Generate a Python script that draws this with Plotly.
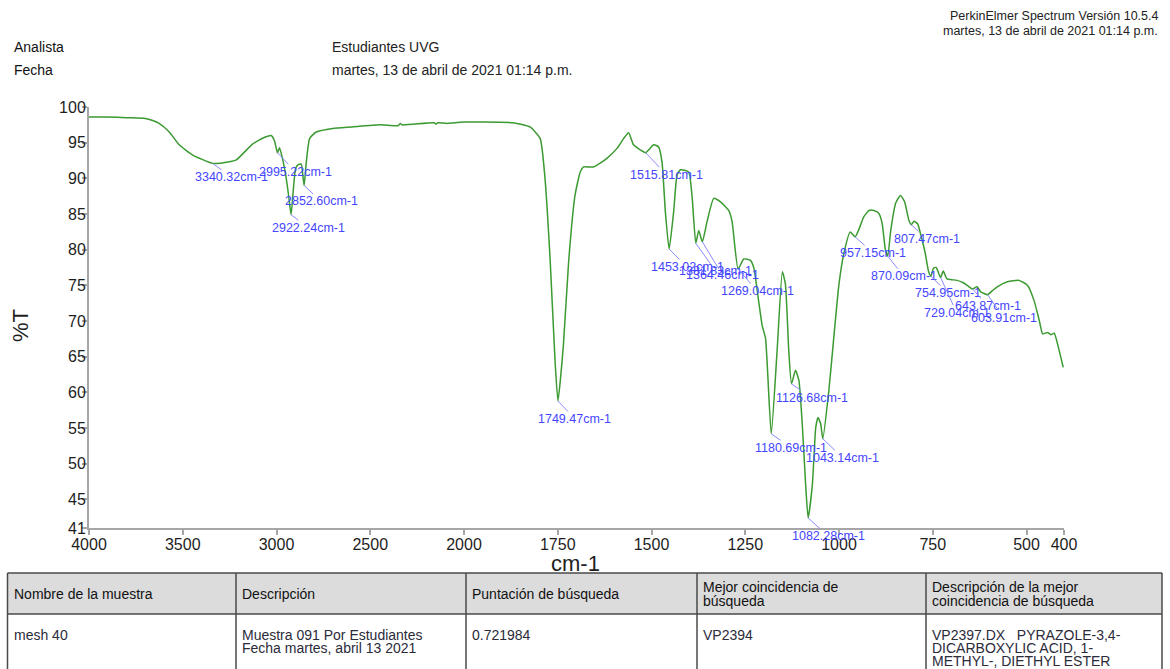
import plotly.graph_objects as go

# ---------------------------------------------------------------- data
# FTIR spectrum: wavenumber (cm-1) and transmittance (%T)
wavenumber = [
    4000, 3900, 3800, 3700, 3660, 3626, 3572, 3519, 3449, 3400, 3340.32, 3260,
    3214, 3128, 3060, 3028, 3010, 2995.22, 2984, 2970, 2948, 2935, 2922.24,
    2910, 2898, 2886, 2868, 2860, 2852.60, 2841, 2823, 2788, 2700, 2600, 2449,
    2350, 2340, 2330, 2160, 2150, 2140, 2092, 2000,
    1957, 1869, 1824, 1797, 1784, 1770, 1757, 1749.47, 1735, 1721, 1704, 1690,
    1681, 1655, 1619, 1592, 1574, 1561, 1548, 1530, 1515.81, 1494, 1481, 1472,
    1463, 1453.02, 1441, 1432, 1423, 1401, 1392, 1381.83, 1374, 1364.46, 1352,
    1334, 1316, 1294, 1285, 1269.04, 1254, 1236, 1227, 1214, 1205, 1196,
    1180.69, 1165, 1151, 1143, 1134, 1126.68, 1116, 1107, 1098, 1089, 1082.28,
    1071, 1062, 1056, 1049, 1043.14, 1027, 1013, 1000, 987, 970, 957.15, 948,
    934, 920, 907, 894, 885, 876, 870.09, 862, 849, 836, 825, 814, 807.47, 800,
    790, 783, 770, 761, 754.95, 748, 741, 729.04, 722, 712, 700, 685, 670, 658,
    643.87, 632, 622, 603.91, 590, 578, 551, 520, 497, 480, 466, 457, 444, 434,
    426, 413, 402,
]
transmittance = [
    98.6, 98.6, 98.5, 98.4, 98.1, 97.7, 96.5, 94.7, 93.3, 92.7, 92.1, 92.3,
    92.6, 94.8, 95.8, 96.0, 95.2, 93.6, 94.3, 93.0, 90.0, 87.5, 84.9,
    88.5, 91.4, 91.9, 92.0, 90.5, 89.0, 92.3, 95.6, 96.5, 97.0, 97.2, 97.5,
    97.4, 97.7, 97.5, 97.8, 97.6, 97.8, 97.7, 97.9,
    97.9, 97.8, 97.2, 95.6, 90.0, 78.3, 64.2, 58.8, 66.6, 78.3, 87.6, 90.9,
    91.6, 91.6, 92.8, 94.2, 95.6, 96.4, 94.7, 94.0, 93.6, 94.7, 94.4, 92.3,
    85.3, 80.1, 85.3, 90.4, 91.2, 90.9, 87.6, 80.9, 82.7, 81.1, 83.9,
    87.2, 86.7, 85.5, 83.9, 77.3, 78.7, 78.5, 77.4, 72.7, 69.4, 67.6,
    54.2, 65.9, 76.9, 75.2, 65.9, 61.2, 63.1, 61.7, 55.6, 47.1, 42.4,
    47.1, 55.1, 56.5, 55.6, 53.5, 60.3, 68.2, 75.2, 79.5, 82.5, 81.8, 82.7,
    84.6, 85.5, 85.5, 85.1, 83.7, 79.9, 79.1, 82.7, 86.5, 87.6, 86.7, 84.2, 83.5, 84.0,
    83.6, 82.3, 79.5, 76.9, 76.3, 77.4, 77.5, 76.1, 77.0, 75.9, 75.8, 75.7, 75.4, 75.0,
    74.5, 74.8, 74.1, 73.7, 74.3, 74.8, 75.5, 75.7, 75.0, 72.9, 70.1, 68.2, 68.4, 68.1,
    68.3, 65.9, 63.5,
]

# labelled peaks and the pixel offset of each label from its peak
peak_wavenumbers = [3340.32, 2995.22, 2922.24, 2852.60, 1749.47, 1515.81,
                    1453.02, 1381.83, 1364.46, 1269.04, 1180.69, 1126.68,
                    1082.28, 1043.14, 957.15, 870.09, 807.47, 754.95,
                    729.04, 643.87, 603.91]
label_dx = [19, 18, 17, 17, 17, 21, 18, 20, 20, 19, 20, 20,
            20, 20, 18, 16, 16, 17, 16, 15, 16]
label_dy = [14, 19, 13, 16, 18, 22, 18, 28, 33, 22, 14, 14,
            18, 19, 16, 20, 14, 17, 35, 17, 23]

x_ticks_high = [4000, 3500, 3000, 2500, 2000]
x_ticks_low = [1750, 1500, 1250, 1000, 750, 500, 400]
y_ticks = [100, 95, 90, 85, 80, 75, 70, 65, 60, 55, 50, 45, 41]

header_left = [("Analista", "Estudiantes UVG"),
               ("Fecha", "martes, 13 de abril de 2021 01:14 p.m.")]
header_right = ["PerkinElmer Spectrum Versión 10.5.4",
                "martes, 13 de abril de 2021 01:14 p.m."]

table_columns = ["Nombre de la muestra", "Descripción", "Puntación de búsqueda",
                 "Mejor coincidencia de\nbúsqueda",
                 "Descripción de la mejor\ncoincidencia de búsqueda"]
table_values = ["mesh 40", "Muestra 091 Por Estudiantes\nFecha martes, abril 13 2021",
                "0.721984", "VP2394",
                "VP2397.DX   PYRAZOLE-3,4-\nDICARBOXYLIC ACID, 1-\nMETHYL-, DIETHYL ESTER"]
table_col_edges = [7.5, 236, 466, 697, 926, 1162]

# ---------------------------------------------------------------- layout geometry
W, H = 1170, 669
ML, MR, MT, MB = 89, 106, 107, 141
PW, PH = W - ML - MR, H - MT - MB
SPLIT = 2000 / 5200          # 4000-2000 is drawn at half the scale of 2000-400

FONT = "Liberation Sans, Arial, sans-serif"
AXIS_GRAY = "#a6a6a6"
GREEN = "#3b9a31"


def px_x(px):
    return (px - ML) / PW


def px_y(py):
    return (H - MB - py) / PH


fig = go.Figure()

high = [(w, t) for w, t in zip(wavenumber, transmittance) if w >= 2000]
low = [(w, t) for w, t in zip(wavenumber, transmittance) if w <= 2000]
for pts, xa in ((high, "x"), (low, "x2")):
    fig.add_trace(go.Scatter(
        x=[p[0] for p in pts], y=[p[1] for p in pts], xaxis=xa, yaxis="y",
        mode="lines", line=dict(color=GREEN, width=1.5, shape="spline", smoothing=0.5),
        hoverinfo="skip", showlegend=False))

axis_style = dict(showline=True, linecolor=AXIS_GRAY, linewidth=2, ticks="outside",
                  ticklen=5, tickwidth=1.5, tickcolor=AXIS_GRAY, showgrid=False,
                  zeroline=False, tickfont=dict(family=FONT, size=16, color="#1e1e1e"))

fig.update_layout(
    width=W, height=H, margin=dict(l=ML, r=MR, t=MT, b=MB),
    paper_bgcolor="white", plot_bgcolor="white", showlegend=False,
    xaxis=dict(domain=[0, SPLIT], range=[4000, 2000], tickvals=x_ticks_high,
               anchor="y", ticklabelstandoff=-4, **axis_style),
    xaxis2=dict(domain=[SPLIT, 1], range=[2000, 400], tickvals=x_ticks_low,
                anchor="y", ticklabelstandoff=-4, **axis_style),
    yaxis=dict(range=[41, 100], tickvals=y_ticks, anchor="x",
               ticklabelstandoff=-7, **axis_style),
)

ann = []
# peak labels
lookup = dict(zip(wavenumber, transmittance))
for w, dx, dy in zip(peak_wavenumbers, label_dx, label_dy):
    ann.append(dict(
        x=w, y=lookup[w], xref="x" if w > 2000 else "x2", yref="y",
        text=f"{w:.2f}cm-1", showarrow=True, arrowhead=0, arrowwidth=1,
        arrowcolor="#8a8aff", ax=dx, ay=dy, standoff=0, borderpad=0,
        font=dict(family=FONT, size=12.5, color="#4545ff")))

# axis titles
ann.append(dict(x=px_x(575), y=px_y(563), xref="paper", yref="paper", text="cm-1",
                showarrow=False, xanchor="center", yanchor="middle",
                font=dict(family=FONT, size=22, color="#1e1e1e")))
ann.append(dict(x=px_x(20), y=px_y(326), xref="paper", yref="paper", text="%T",
                textangle=-90, showarrow=False, xanchor="center", yanchor="middle",
                font=dict(family=FONT, size=22, color="#1e1e1e")))

# report header
for i, line in enumerate(header_right):
    ann.append(dict(x=px_x(1160), y=px_y(16 + 15 * i), xref="paper", yref="paper",
                    text=line, showarrow=False, xanchor="right", yanchor="middle",
                    font=dict(family=FONT, size=12.5, color="#222")))
for i, (key, val) in enumerate(header_left):
    yy = px_y(47 + 23 * i)
    ann.append(dict(x=px_x(12), y=yy, xref="paper", yref="paper", text=key,
                    showarrow=False, xanchor="left", yanchor="middle",
                    font=dict(family=FONT, size=14, color="#111")))
    ann.append(dict(x=px_x(330), y=yy, xref="paper", yref="paper", text=val,
                    showarrow=False, xanchor="left", yanchor="middle",
                    font=dict(family=FONT, size=14, color="#222")))

# results table
shapes = []
t_top, t_head, t_bot = 573, 614, 680
shapes.append(dict(type="rect", xref="paper", yref="paper",
                   x0=px_x(table_col_edges[0]), x1=px_x(table_col_edges[-1]),
                   y0=px_y(t_top), y1=px_y(t_head), fillcolor="#dcdcdc",
                   line=dict(width=0), layer="below"))
border = dict(color="#4a4a4a", width=1.5)
for yy in (t_top, t_head):
    shapes.append(dict(type="line", xref="paper", yref="paper",
                       x0=px_x(table_col_edges[0]), x1=px_x(table_col_edges[-1]),
                       y0=px_y(yy), y1=px_y(yy), line=border))
for xx in table_col_edges:
    shapes.append(dict(type="line", xref="paper", yref="paper",
                       x0=px_x(xx), x1=px_x(xx), y0=px_y(t_top), y1=px_y(t_bot),
                       line=border))

for left, head, val in zip(table_col_edges[:-1], table_columns, table_values):
    lines = head.split("\n")
    y0 = 594 - 7 * (len(lines) - 1)
    for k, line in enumerate(lines):
        ann.append(dict(x=px_x(left + 4), y=px_y(y0 + 14 * k), xref="paper",
                        yref="paper", text=line, showarrow=False, xanchor="left",
                        yanchor="middle", font=dict(family=FONT, size=14, color="#111")))
    for k, line in enumerate(val.split("\n")):
        ann.append(dict(x=px_x(left + 4), y=px_y(635 + 13 * k), xref="paper",
                        yref="paper", text=line, showarrow=False, xanchor="left",
                        yanchor="middle", font=dict(family=FONT, size=14, color="#2b2b3a")))

fig.update_layout(annotations=ann, shapes=shapes)
fig.write_html("out.html")
